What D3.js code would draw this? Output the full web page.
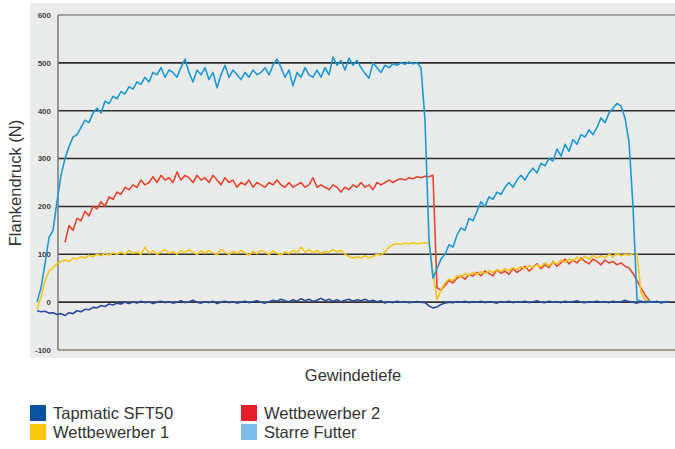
<!DOCTYPE html>
<meta charset="utf-8">
<head>
	<title>Flankendruck</title>
</head>

<style>
body { margin: 0; background: #fff; }
svg { display: block; }
.tick-label { font-family: "Liberation Sans", Arial, sans-serif; font-size: 8px; font-weight: bold; fill: #444; }
.axis-title { font-family: "Liberation Sans Narrow", "Liberation Sans", sans-serif; font-size: 16.5px; fill: #333; }
.legend-text { font-family: "Liberation Sans Narrow", "Liberation Sans", sans-serif; font-size: 16.5px; fill: #333; }
</style>

<body>
<svg width="675" height="449"></svg>

<script src="https://cdnjs.cloudflare.com/ajax/libs/d3/7.8.5/d3.min.js"></script>
<script>

// y ticks
var yTicks = [-100, 0, 100, 200, 300, 400, 500, 600];

// series (one value per sample step along Gewindetiefe, null = no value)
var starreFutter = [
	0, 30, 80, 135, 150, 210, 265, 300, 325, 345,
	350, 365, 380, 375, 395, 405, 395, 420, 415, 430,
	425, 440, 435, 450, 445, 460, 455, 470, 460, 480,
	475, 490, 470, 485, 480, 470, 490, 508, 480, 460,
	485, 475, 490, 465, 480, 448, 475, 495, 470, 485,
	475, 465, 480, 470, 485, 475, 480, 490, 475, 495,
	508, 490, 470, 485, 452, 480, 470, 490, 475, 470,
	485, 470, 490, 475, 512, 495, 505, 485, 510, 495,
	505, 490, 478, 468, 500, 490, 480, 495, 490, 498,
	495, 500, 497, 502, 498, 500, 490, 380, 130, 50,
	70, 90, 100, 120, 115, 140, 155, 150, 175, 170,
	190, 210, 200, 220, 215, 230, 225, 240, 250, 240,
	255, 265, 255, 270, 280, 270, 290, 285, 300, 295,
	320, 305, 330, 315, 340, 330, 350, 345, 360, 350,
	365, 385, 375, 395, 405, 415, 410, 385, 335, 200,
	5, 2, -1, 1, 0, 2, -1, 1, 0
];

var wettbewerber2 = [
	null, null, null, null, null, null, null, 125, 160, 150,
	175, 170, 190, 180, 200, 195, 210, 200, 220, 215,
	230, 225, 240, 235, 245, 240, 255, 245, 250, 262,
	250, 265, 255, 260, 250, 272, 255, 265, 260, 250,
	265, 255, 260, 250, 265, 255, 245, 260, 250, 255,
	240, 250, 245, 255, 240, 250, 245, 240, 250, 245,
	255, 245, 240, 250, 240, 245, 250, 240, 245, 260,
	240, 245, 240, 235, 245, 240, 230, 240, 235, 245,
	240, 250, 240, 245, 235, 250, 245, 250, 255, 250,
	255, 258, 255, 260, 258, 262, 260, 263, 262, 265,
	30, 25, 35, 45, 40, 50, 55, 48, 58, 55,
	62, 55, 65, 60, 55, 68, 60, 65, 58, 70,
	62, 68, 75, 65, 72, 80, 70, 78, 72, 85,
	75, 82, 90, 80, 88, 82, 92, 85, 80, 90,
	85, 78, 88, 82, 85, 78, 82, 75, 72, 60,
	45, 30, 15, 5, null, null, null, null, null
];

var wettbewerber1 = [
	-15, 10, 45, 65, 72, 80, 85, 88, 85, 92,
	90, 95, 92, 98, 95, 100, 97, 102, 98, 103,
	100, 105, 100, 108, 102, 105, 100, 115, 102, 107,
	100, 105, 110, 102, 106, 100, 108, 103, 110, 104,
	100, 107, 102, 108, 103, 99, 110, 104, 100, 106,
	102, 108, 103, 98, 106, 101, 108, 104, 100, 107,
	102, 99, 105, 101, 108, 103, 115, 104, 110, 103,
	108, 102, 106, 104, 110, 105, 108, 100, 95, 92,
	95, 92, 97, 93, 96, 100, 98, 105, 115, 120,
	122, 121, 123, 122, 124, 122, 123, 124, 122, 60,
	5, 25, 40, 48, 45, 55, 52, 60, 56, 62,
	58, 64, 60, 66, 62, 68, 64, 70, 66, 72,
	68, 74, 70, 76, 72, 78, 74, 82, 76, 84,
	80, 88, 83, 90, 86, 94, 88, 96, 90, 98,
	92, 97, 93, 100, 95, 102, 97, 100, 98, 102,
	100, 20, 5, 2, null, null, null, null, null
];

var tapmatic = [
	-18, -20, -19, -23, -22, -26, -24, -28, -22, -24,
	-18, -20, -15, -16, -11, -12, -7, -9, -4, -6,
	-2, -4, 0, -3, 1, -2, 2, -1, 1, -3,
	0, 2, -1, 1, -2, 0, 3, -1, 1, 4,
	0, -2, 1, -1, 2, -3, 0, 2, -1, 1,
	-2, 0, 2, -1, 1, 3, 0, -2, 1, 4,
	2, 6, 3, 1, 5, 2, 7, 3, 6, 2,
	4, 8, 3, 6, 2, 5, 1, 4, 6, 2,
	5, 3, 6, 2, 4, 1, 3, -2, 1, -1,
	2, 0, 1, -1, 0, 1, 0, -1, -8, -12,
	-10, -5, -2, 0, -1, 1, 0, 2, -1, 1,
	0, 2, -1, 1, 0, -2, 1, 0, 2, -1,
	1, 0, 2, -1, 1, 3, 0, -1, 2, 0,
	1, -1, 2, 0, 1, 3, 0, -1, 1, 0,
	2, 0, 1, -1, 2, 0, 1, 4, 1, 0,
	-2, 1, 0, 2, 0, 1, -1, 0, 1
];

var series = [
	{ name: "Wettbewerber 2", values: wettbewerber2, color: "#e8452e" },
	{ name: "Wettbewerber 1", values: wettbewerber1, color: "#f6c51c" },
	{ name: "Starre Futter", values: starreFutter, color: "#1f98d6" },
	{ name: "Tapmatic SFT50", values: tapmatic, color: "#2a4c9c" }
];

var legendItems = [
	{ name: "Tapmatic SFT50", color: "#0a51a1", col: 0, row: 0 },
	{ name: "Wettbewerber 1", color: "#fdc70f", col: 0, row: 1 },
	{ name: "Wettbewerber 2", color: "#e4202a", col: 1, row: 0 },
	{ name: "Starre Futter", color: "#79bde8", col: 1, row: 1 }
];

var svg = d3.select("svg");

var x = d3.scaleLinear().domain([0, 158]).range([37, 669]);
var y = d3.scaleLinear().domain([-100, 600]).range([350, 15]);

// panel
svg.append("rect")
	.attr("x", 30).attr("y", 3)
	.attr("width", 645).attr("height", 355)
	.attr("fill", "#eaecec");

// grid lines
svg.selectAll(".grid")
	.data(yTicks)
	.enter().append("line")
	.attr("x1", 58).attr("x2", 675)
	.attr("y1", function(d){ return y(d); })
	.attr("y2", function(d){ return y(d); })
	.attr("stroke", function(d){
		if (d === 600) return "#8a8a8a";
		if (d === -100) return "#8c8478";
		return "#2e2e2e";
	})
	.attr("stroke-width", 1.6);

// y axis line
svg.append("line")
	.attr("x1", 58).attr("x2", 58)
	.attr("y1", y(600)).attr("y2", y(-100))
	.attr("stroke", "#7a7a7a")
	.attr("stroke-width", 1.5);

svg.selectAll(".tick-label")
	.data(yTicks)
	.enter().append("text")
	.attr("class", "tick-label")
	.attr("x", 51)
	.attr("y", function(d){ return y(d); })
	.attr("dy", "0.35em")
	.attr("text-anchor", "end")
	.text(function(d){ return d; });

// lines
var line = d3.line()
	.defined(function(d){ return d != null; })
	.x(function(d, i){ return x(i); })
	.y(function(d){ return y(d); });

svg.selectAll(".series")
	.data(series)
	.enter().append("path")
	.attr("d", function(d){ return line(d.values); })
	.attr("fill", "none")
	.attr("stroke", function(d){ return d.color; })
	.attr("stroke-width", 1.6)
	.attr("stroke-linejoin", "round");

// axis titles
svg.append("text")
	.attr("class", "axis-title")
	.attr("transform", "translate(21, 183) rotate(-90)")
	.attr("text-anchor", "middle")
	.text("Flankendruck (N)");

svg.append("text")
	.attr("class", "axis-title")
	.attr("x", 353).attr("y", 381)
	.attr("text-anchor", "middle")
	.text("Gewindetiefe");

// legend
var legend = svg.selectAll(".legend")
	.data(legendItems)
	.enter().append("g")
	.attr("transform", function(d){
		return "translate(" + (30 + d.col * 211) + "," + (405 + d.row * 19) + ")";
	});

legend.append("rect")
	.attr("width", 16).attr("height", 16)
	.attr("fill", function(d){ return d.color; });

legend.append("text")
	.attr("class", "legend-text")
	.attr("x", 23).attr("y", 14)
	.text(function(d){ return d.name; });

</script>
</body>
</html>
